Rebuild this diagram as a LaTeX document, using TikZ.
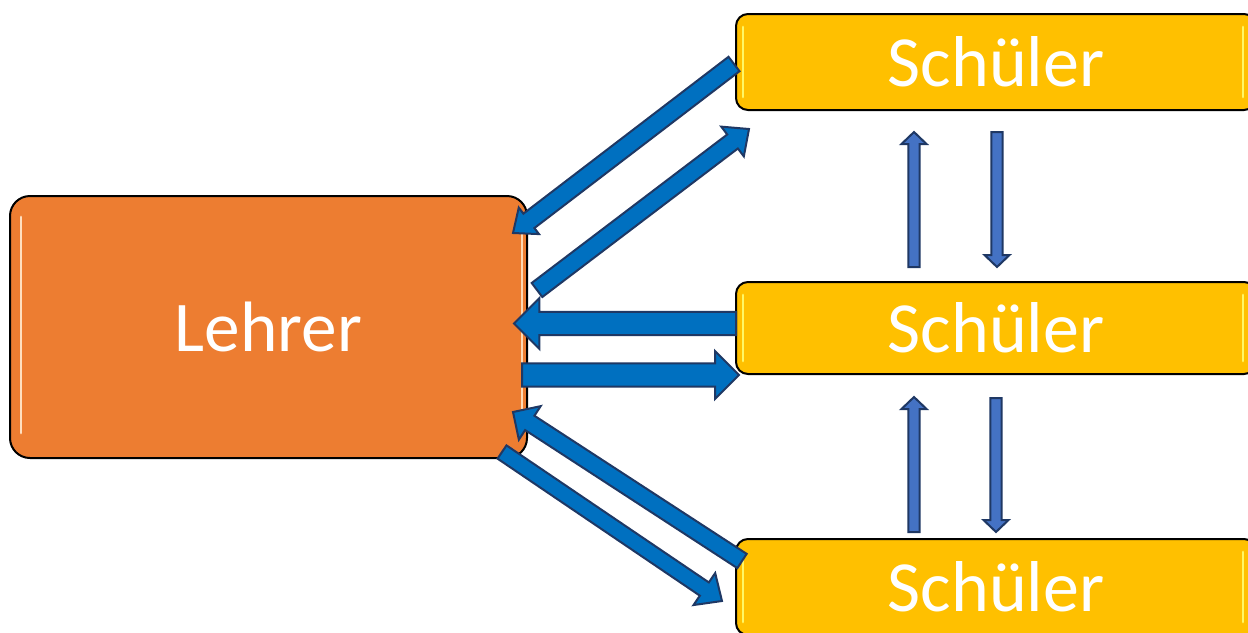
\documentclass[tikz,border=0pt]{standalone}
\usepackage{fontspec}
\setmainfont{Carlito}
\usetikzlibrary{calc}
\definecolor{lorange}{HTML}{ED7D31}
\definecolor{syellow}{HTML}{FFC000}
\definecolor{ablue}{HTML}{0070C0}
\definecolor{sblue}{HTML}{4472C4}
\definecolor{anavy}{HTML}{1F3864}
\newcommand\blockarrow[6][]{%
  \coordinate (ba-h) at ($(#3)!#6!(#2)$);
  \draw[#1] ($(#2)!#4!90:(#3)$) -- ($(ba-h)!#4!90:(#3)$) -- ($(ba-h)!#5!90:(#3)$) -- (#3)
    -- ($(ba-h)!#5!-90:(#3)$) -- ($(ba-h)!#4!-90:(#3)$) -- ($(#2)!#4!-90:(#3)$) -- cycle;}
\tikzset{
  lehrerbox/.style={draw=black, line width=1.5pt, fill=lorange, rounded corners=15pt,
    minimum width=387.75pt, minimum height=196.5pt, text=white, font=\fontsize{53.5}{64}\selectfont},
  schuelerbox/.style={draw=black, line width=1.5pt, fill=syellow, rounded corners=9pt,
    minimum width=390pt, text=white, font=\fontsize{54}{64}\selectfont},
  bigarrow/.style={fill=ablue, draw=anavy, line width=1.5pt, line join=miter},
  smallarrow/.style={fill=sblue, draw=anavy, line width=1.5pt, line join=miter},
  shine/.style={line width=2.2pt, line cap=round},
}
\begin{document}
\begin{tikzpicture}[x=0.75pt, y=-0.75pt]
\useasboundingbox (0,0) rectangle (1248,632);
% boxes
\node[lehrerbox] (L) at (268.5,327) {Lehrer};
\node[schuelerbox, minimum height=72pt] (S1) at (996,62) {Schüler};
\node[schuelerbox, minimum height=69pt] (S2) at (996,328) {Schüler};
\node[schuelerbox, minimum height=72pt] (S3) at (996,587) {Schüler};
% glossy highlights
\draw[shine, draw=orange!25!white] ($(L.north west)+(12,22)$) -- ($(L.south west)+(12,-26)$);
\draw[shine, draw=orange!30!white] ($(L.north east)+(-6,30)$) -- ($(L.south east)+(-6,-40)$);
\foreach \s in {S1,S2,S3}{
  \draw[shine, draw=yellow!60!white] ($(\s.north west)+(8,14)$) -- ($(\s.south west)+(8,-14)$);
  \draw[shine, draw=yellow!60!white] ($(\s.north east)+(-14,14)$) -- ($(\s.south east)+(-14,-14)$);
}
% arrow end points
\coordinate (a1s) at (734,64);   \coordinate (a1e) at (513,233);
\coordinate (a2s) at (537,290);  \coordinate (a2e) at (749,129);
\coordinate (a3s) at (736,323.5);\coordinate (a3e) at (514,323.5);
\coordinate (a4s) at (522,375);  \coordinate (a4e) at (739,375);
\coordinate (a5s) at (742,561);  \coordinate (a5e) at (513,412);
\coordinate (a6s) at (502,452);  \coordinate (a6e) at (722,601);
\coordinate (v1s) at (914,267);  \coordinate (v1e) at (914,132);
\coordinate (v2s) at (997,132);  \coordinate (v2e) at (997,267);
\coordinate (v3s) at (914,532);  \coordinate (v3e) at (914,397);
\coordinate (v4s) at (996,398);  \coordinate (v4e) at (996,532);
% big arrows
\blockarrow[bigarrow]{a1s}{a1e}{6.8pt}{12.5pt}{15pt}
\blockarrow[bigarrow]{a2s}{a2e}{6.6pt}{14pt}{15.5pt}
\blockarrow[bigarrow]{a3s}{a3e}{8.8pt}{19pt}{19pt}
\blockarrow[bigarrow]{a4s}{a4e}{8.8pt}{18pt}{18pt}
\blockarrow[bigarrow]{a5s}{a5e}{6.4pt}{15pt}{15pt}
\blockarrow[bigarrow]{a6s}{a6e}{6pt}{14.5pt}{16pt}
% small arrows
\blockarrow[smallarrow]{v1s}{v1e}{4.3pt}{9.4pt}{9pt}
\blockarrow[smallarrow]{v2s}{v2e}{4.3pt}{9.4pt}{9pt}
\blockarrow[smallarrow]{v3s}{v3e}{4.3pt}{9.4pt}{9pt}
\blockarrow[smallarrow]{v4s}{v4e}{4.3pt}{9.4pt}{9pt}
\end{tikzpicture}
\end{document}
